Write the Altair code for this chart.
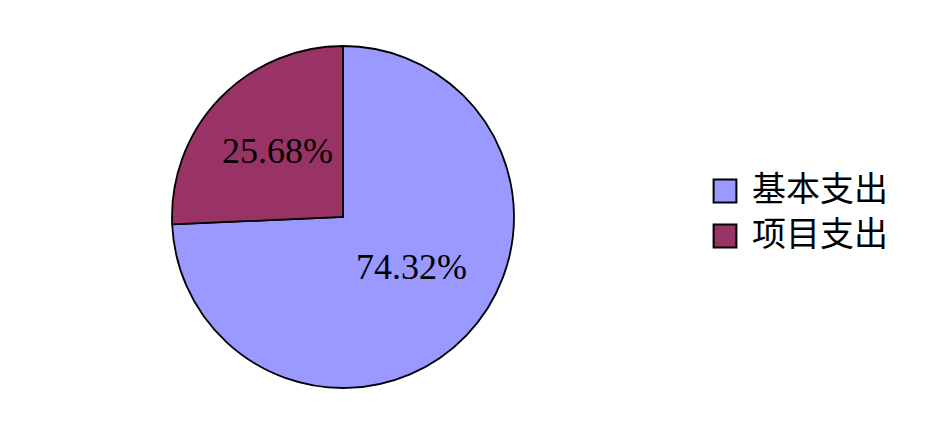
import altair as alt
import pandas as pd

categories = ["基本支出", "项目支出"]
values = [74.32, 25.68]
labels = ["74.32%", "25.68%"]
colors = ["#9999FF", "#993366"]

df = pd.DataFrame({"cat": categories, "val": values, "label": labels, "order": [0, 1]})

theta_scale = alt.Scale(domain=[0, 100], range=[0, 6.283185307179586])

pie = alt.Chart(df).mark_arc(outerRadius=171, stroke="black", strokeWidth=1.8).encode(
    theta=alt.Theta("val:Q", stack=True, scale=theta_scale),
    order=alt.Order("order:Q"),
    x=alt.value(335),
    y=alt.value(209),
    color=alt.Color(
        "cat:N",
        scale=alt.Scale(domain=categories, range=colors),
        legend=alt.Legend(
            title=None,
            orient="none",
            legendX=700,
            legendY=166,
            symbolType="square",
            symbolSize=520,
            symbolStrokeColor="black",
            symbolStrokeWidth=2,
            labelFont="Noto Sans CJK SC",
            labelFontSize=34,
            labelColor="black",
            labelLimit=300,
            rowPadding=11,
            labelOffset=10,
        ),
    ),
)

tbase = alt.Chart(df).transform_window(
    cum="sum(val)", sort=[alt.SortField("order")]
).transform_calculate(mid="datum.cum - datum.val / 2")


def label_layer(idx, dx, dy):
    return tbase.transform_filter(alt.datum.order == idx).mark_text(
        radius=92, font="Liberation Serif", fontSize=36, color="black", dx=dx, dy=dy
    ).encode(
        theta=alt.Theta("mid:Q", stack=None, scale=theta_scale),
        x=alt.value(335),
        y=alt.value(209),
        text="label:N",
    )


chart = (pie + label_layer(0, 2, -13) + label_layer(1, 1, -1)).properties(
    width=900, height=410, autosize=alt.AutoSizeParams(type="none"), padding=0
).configure_view(stroke=None)

chart.save("out.html", embed_options={"renderer": "svg", "actions": False})
